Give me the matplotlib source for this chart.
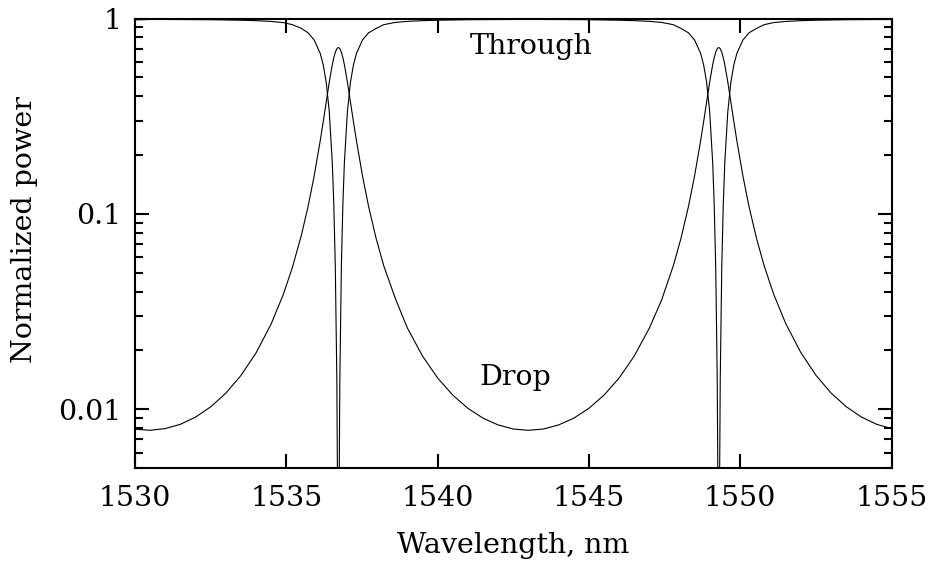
import numpy as np
import matplotlib
matplotlib.use("Agg")
import matplotlib.pyplot as plt
from matplotlib.ticker import LogLocator, NullFormatter, FixedLocator

# wavelength (nm) and normalized power
wavelength = [
    1530.0, 1530.5, 1531.0, 1531.5, 1532.0, 1532.5, 1533.0, 1533.5, 1534.0, 1534.5,
    1534.9, 1535.2, 1535.5, 1535.72, 1535.92, 1536.12, 1536.22, 1536.32, 1536.42, 1536.52,
    1536.57, 1536.62, 1536.67, 1536.70, 1536.72, 1536.74, 1536.77, 1536.82, 1536.87, 1536.92,
    1537.02, 1537.12, 1537.22, 1537.32, 1537.52, 1537.72, 1537.97, 1538.22, 1538.6, 1539.0,
    1539.5, 1540.0, 1540.5, 1541.0, 1541.5, 1542.0, 1542.5, 1543.0, 1543.5, 1544.0,
    1544.5, 1545.0, 1545.5, 1546.0, 1546.5, 1547.0, 1547.4, 1547.79, 1548.04, 1548.29,
    1548.49, 1548.69, 1548.79, 1548.89, 1548.99, 1549.09, 1549.14, 1549.19, 1549.24, 1549.27,
    1549.29, 1549.31, 1549.34, 1549.39, 1549.44, 1549.49, 1549.59, 1549.69, 1549.79, 1549.89,
    1550.09, 1550.29, 1550.54, 1550.79, 1551.1, 1551.5, 1552.0, 1552.5, 1553.0, 1553.5,
    1554.0, 1554.5, 1555.0,
]

drop = [
    0.00790, 0.00780, 0.00796, 0.00837, 0.00911, 0.01028, 0.01207, 0.01487, 0.01941, 0.02732,
    0.03863, 0.05306, 0.0779, 0.1091, 0.156, 0.236, 0.296, 0.374, 0.472, 0.580,
    0.630, 0.672, 0.700, 0.708, 0.710, 0.708, 0.700, 0.672, 0.630, 0.580,
    0.472, 0.374, 0.296, 0.236, 0.156, 0.1091, 0.0747, 0.0543, 0.0370, 0.02608,
    0.01873, 0.01446, 0.01181, 0.01011, 0.00900, 0.00831, 0.00792, 0.00780, 0.00792, 0.00831,
    0.00900, 0.01011, 0.01181, 0.01446, 0.01873, 0.02608, 0.03615, 0.0543, 0.0747, 0.1091,
    0.156, 0.236, 0.296, 0.374, 0.472, 0.580, 0.630, 0.672, 0.700, 0.708,
    0.710, 0.708, 0.700, 0.672, 0.630, 0.580, 0.472, 0.374, 0.296, 0.236,
    0.156, 0.1091, 0.0747, 0.0543, 0.0390, 0.02753, 0.01953, 0.01493, 0.01211, 0.01031,
    0.00913, 0.00838, 0.00796,
]

through = [
    0.985, 0.989, 0.989, 0.988, 0.987, 0.986, 0.983, 0.980, 0.975, 0.966,
    0.953, 0.930, 0.890, 0.845, 0.777, 0.664, 0.580, 0.471, 0.334, 0.183,
    0.112, 0.0535, 0.0143, 0.0027, 0.0005, 0.0027, 0.0143, 0.0535, 0.112, 0.183,
    0.334, 0.471, 0.580, 0.664, 0.777, 0.845, 0.890, 0.930, 0.955, 0.967,
    0.975, 0.980, 0.983, 0.986, 0.987, 0.988, 0.989, 0.989, 0.989, 0.988,
    0.987, 0.986, 0.983, 0.980, 0.975, 0.967, 0.955, 0.930, 0.890, 0.845,
    0.777, 0.664, 0.580, 0.471, 0.334, 0.183, 0.112, 0.0535, 0.0143, 0.0027,
    0.0005, 0.0027, 0.0143, 0.0535, 0.112, 0.183, 0.334, 0.471, 0.580, 0.664,
    0.777, 0.845, 0.890, 0.930, 0.953, 0.966, 0.975, 0.980, 0.983, 0.986,
    0.987, 0.988, 0.989,
]

x_ticks = [1530, 1535, 1540, 1545, 1550, 1555]
y_ticks = [0.01, 0.1, 1]
y_ticklabels = ["0.01", "0.1", "1"]

plt.rcParams['font.family'] = ['DejaVu Serif']

fig = plt.figure(figsize=(9.36, 5.68), dpi=100)
ax = fig.add_axes([0.1442, 0.176, 0.8083, 0.7914])

ax.plot(wavelength, through, color="black", lw=0.8)
ax.plot(wavelength, drop, color="black", lw=0.8)

ax.set_yscale('log')
ax.set_xlim(1530, 1555)
ax.set_ylim(0.005, 1)

ax.xaxis.set_major_locator(FixedLocator(x_ticks))
ax.set_xticklabels([str(t) for t in x_ticks])
ax.set_yticks(y_ticks)
ax.set_yticklabels(y_ticklabels)
ax.yaxis.set_minor_locator(LogLocator(base=10, subs=np.arange(2, 10)))
ax.yaxis.set_minor_formatter(NullFormatter())

fs = 20.5
ax.tick_params(which='both', direction='in', top=True, right=True, labelsize=fs)
ax.tick_params(which='major', length=10, width=1.5, pad=10)
ax.tick_params(axis='x', which='major', pad=12)
ax.tick_params(which='minor', length=6, width=1.5)
for sp in ax.spines.values():
    sp.set_linewidth(1.5)

ax.set_xlabel("Wavelength, nm", fontsize=fs)
ax.set_ylabel("Normalized power", fontsize=fs)
ax.xaxis.set_label_coords(0.5, -0.143)
ax.yaxis.set_label_coords(-0.128, 0.53)

ax.text(1543.1, 0.715, "Through", fontsize=fs, ha='center', va='center')
ax.text(1542.55, 0.0146, "Drop", fontsize=fs, ha='center', va='center')

fig.savefig("out.png", dpi=100)
